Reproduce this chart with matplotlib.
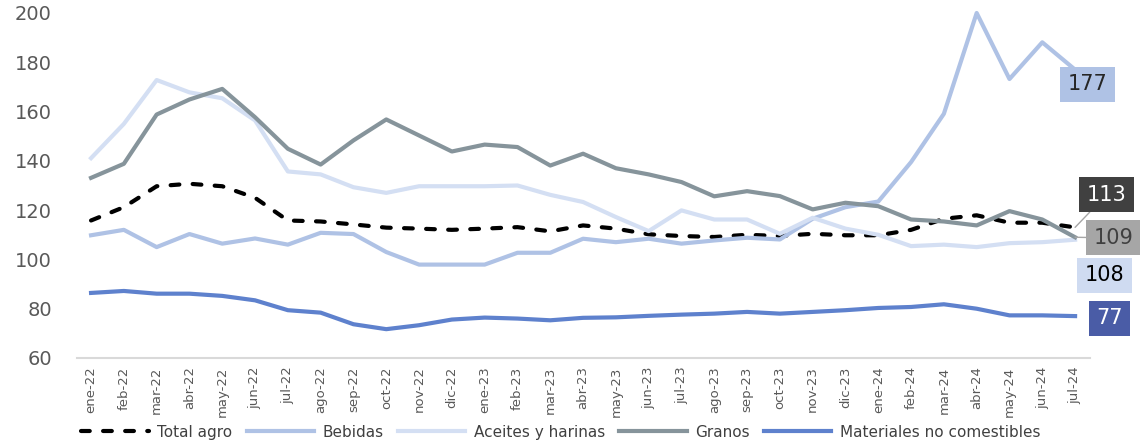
import matplotlib.pyplot as plt
import numpy as np

meses = ['ene-22', 'feb-22', 'mar-22', 'abr-22', 'may-22', 'jun-22', 'jul-22', 'ago-22',
         'sep-22', 'oct-22', 'nov-22', 'dic-22', 'ene-23', 'feb-23', 'mar-23', 'abr-23',
         'may-23', 'jun-23', 'jul-23', 'ago-23', 'sep-23', 'oct-23', 'nov-23', 'dic-23',
         'ene-24', 'feb-24', 'mar-24', 'abr-24', 'may-24', 'jun-24', 'jul-24']

total_agro = [115.8, 121.2, 129.7, 130.7, 129.7, 125.0, 115.8, 115.4, 114.2, 112.9, 112.5,
              112.0, 112.5, 113.1, 111.4, 113.8, 112.5, 110.2, 109.5, 109.1, 110.0, 109.5,
              110.4, 109.8, 109.8, 112.0, 116.5, 117.9, 114.9, 114.9, 113.0]
bebidas = [109.8, 112.0, 105.0, 110.3, 106.4, 108.5, 106.0, 110.8, 110.3, 103.0, 97.9,
           97.9, 97.9, 102.7, 102.7, 108.4, 107.0, 108.4, 106.4, 107.7, 108.8, 108.1,
           116.5, 121.2, 123.5, 139.5, 159.1, 200.0, 173.2, 188.1, 177.0]
aceites = [141.1, 155.0, 172.8, 167.8, 165.4, 156.4, 135.7, 134.5, 129.3, 127.0, 129.7,
           129.7, 129.7, 130.0, 126.2, 123.3, 117.2, 111.5, 119.9, 116.2, 116.2, 110.4,
           116.9, 112.5, 110.0, 105.4, 106.0, 105.0, 106.6, 107.0, 108.0]
granos = [133.1, 138.8, 158.8, 164.9, 169.2, 157.7, 144.9, 138.5, 148.3, 156.8, 150.3,
          143.8, 146.6, 145.6, 138.1, 142.9, 137.0, 134.5, 131.4, 125.6, 127.7, 125.7,
          120.3, 123.0, 121.6, 116.2, 115.4, 113.8, 119.6, 116.2, 109.0]
materiales = [86.4, 87.2, 86.1, 86.1, 85.2, 83.4, 79.4, 78.4, 73.7, 71.7, 73.3, 75.6, 76.4,
              76.0, 75.3, 76.3, 76.5, 77.1, 77.6, 78.0, 78.7, 78.0, 78.7, 79.4, 80.3, 80.7,
              81.8, 80.0, 77.3, 77.3, 77.0]

c_beb = '#AFC2E5'
c_ace = '#D4DFF3'
c_gra = '#86949B'
c_mat = '#5E81CD'

fig = plt.figure(figsize=(11.4, 4.48), dpi=100)
ax = fig.add_axes([0.0675, 0.2009, 0.8885, 0.7701])

x = np.arange(len(meses))
ax.plot(x, total_agro, color='black', lw=3, ls=(0, (2.1, 3.2)), dash_capstyle='round',
        label='Total agro')
ax.plot(x, bebidas, color=c_beb, lw=3, label='Bebidas', clip_on=False)
ax.plot(x, aceites, color=c_ace, lw=3, label='Aceites y harinas')
ax.plot(x, granos, color=c_gra, lw=3, label='Granos')
ax.plot(x, materiales, color=c_mat, lw=3, label='Materiales no comestibles')

ax.set_xlim(-0.43, 30.45)
ax.set_ylim(60, 200)
ax.set_yticks(range(60, 201, 20))
ax.set_xticks(x)
ax.set_xticklabels(meses, rotation=90, fontsize=9.5, color='#595959')
ax.tick_params(axis='y', labelsize=14, colors='#595959', length=0, pad=18)
ax.tick_params(axis='x', length=0, pad=6)
for s in ['top', 'right', 'left']:
    ax.spines[s].set_visible(False)
ax.spines['bottom'].set_color('#D9D9D9')
ax.spines['bottom'].set_linewidth(1.5)

# etiquetas del ultimo dato
last = len(meses) - 1
def etiqueta(val, ypos, xoff, fc, tc, linea=False):
    ax.annotate(str(int(round(val))), xy=(last, val), xytext=(last + xoff, ypos),
                ha='center', va='center', fontsize=15, color=tc,
                bbox=dict(boxstyle='square,pad=0.36', fc=fc, ec='none'),
                arrowprops=dict(arrowstyle='-', color='#A6A6A6', lw=1,
                                shrinkA=0, shrinkB=0) if linea else None,
                annotation_clip=False)

etiqueta(bebidas[-1], 171.0, 0.37, '#AFC2E5', '#262626')
etiqueta(total_agro[-1], 126.3, 0.96, '#404040', 'white', linea=True)
etiqueta(granos[-1], 108.7, 1.17, '#A6A6A6', '#404040', linea=True)
etiqueta(aceites[-1], 93.5, 0.9, '#CFDBF1', 'black')
etiqueta(materiales[-1], 76.2, 1.05, '#4A5CA6', 'white')

fig.legend(loc='lower center', bbox_to_anchor=(0.492, -0.012), ncol=5, frameon=False,
           prop={'family': ['Liberation Sans Narrow', 'DejaVu Sans'], 'size': 11},
           labelcolor='#404040', handlelength=4.4, columnspacing=0.95, handletextpad=0.55)

fig.savefig('out.png', dpi=100)
